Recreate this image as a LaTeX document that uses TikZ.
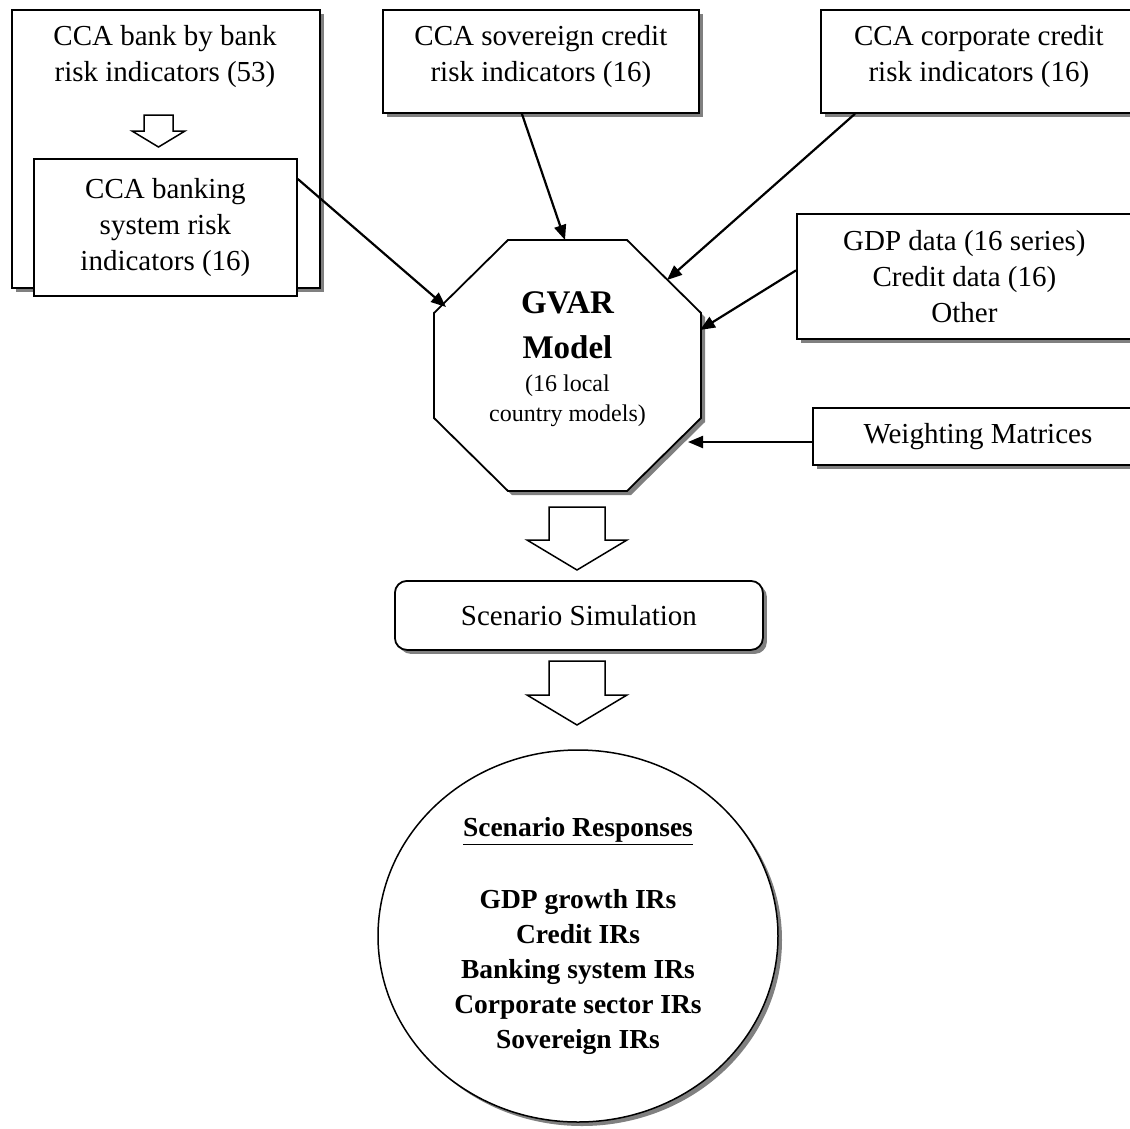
\documentclass[tikz,border=0pt]{standalone}
\usepackage{fontspec}
\setmainfont{Liberation Serif}
\usetikzlibrary{arrows.meta,shadows,shapes.geometric}

\begin{document}
\begin{tikzpicture}[x=1pt, y=-1pt,
    txt/.style={font=\fontsize{29}{36}\selectfont, align=center, inner sep=0},
    box/.style={draw, line width=1.8pt, fill=white, inner sep=0, anchor=north west},
    shad/.style={drop shadow={shadow xshift=4pt, shadow yshift=-4pt, fill=gray, opacity=1}},
    arr/.style={line width=2.2pt, -{Triangle[length=15pt, width=12pt]}},
    blk/.style={draw, line width=1.5pt, fill=white, line join=miter}]
  \useasboundingbox (0,0) rectangle (1130,1128);
  % INPUT BOXES
  \node[box, shad, minimum width=308pt, minimum height=278pt] (bankall) at (11,9) {};
  \node[txt] (bankalltxt) at (165,57) {CCA bank by bank\\risk indicators (53)};
  \draw[blk] (144,115) -- (173,115) -- (173,131) -- (185,131) -- (158.5,147) -- (132,131) -- (144,131) -- cycle;
  \node[box, txt, minimum width=263pt, minimum height=137pt] (banksys) at (33,158) {CCA banking\\system risk\\indicators (16)};
  \node[box, txt, shad, text depth=15pt, minimum width=316pt, minimum height=103pt] (sov) at (382,9) {CCA sovereign credit\\risk indicators (16)};
  \node[box, txt, shad, text depth=15pt, minimum width=316pt, minimum height=103pt] (corp) at (820,9) {CCA corporate credit\\risk indicators (16)};
  \node[box, txt, shad, minimum width=335pt, minimum height=125pt] (gdp) at (796,213) {GDP data (16 series)\\Credit data (16)\\Other};
  \node[box, txt, shad, minimum width=330pt, minimum height=57pt] (wm) at (812,407) {Weighting Matrices};
  % GVAR OCTAGON
  \draw[blk, line width=1.8pt, shad] (508,240) -- (627,240) -- (701,313) -- (701,418) -- (627,491) -- (508,491) -- (434,418) -- (434,313) -- cycle;
  \node[txt, font=\fontsize{33}{45}\selectfont\bfseries] (gvar) at (567.5,325.5) {GVAR\\Model};
  \node[txt, font=\fontsize{24}{30}\selectfont] (gvarsub) at (567.5,401) {(16 local\\country models)};
  \coordinate (gvarNW) at (446,307);
  \coordinate (gvarN) at (565,240);
  \coordinate (gvarNE) at (667,280);
  \coordinate (gvarE) at (700,330);
  \coordinate (gvarSE) at (688,442);
  % ARROWS
  \draw[arr] ([yshift=-21pt]banksys.north east) -- (gvarNW);
  \draw[arr] ([xshift=-19pt]sov.south) -- (gvarN);
  \draw[arr] ([xshift=35pt]corp.south west) -- (gvarNE);
  \draw[arr] ([yshift=6pt]gdp.west) -- (gvarE);
  \draw[arr] (gvarSE -| wm.west) -- (gvarSE);
  % SIMULATION
  \draw[blk] (549,507) -- (605,507) -- (605,540) -- (627,540) -- (577,570) -- (527,540) -- (549,540) -- cycle;
  \node[box, txt, shad, rounded corners=12pt, minimum width=368pt, minimum height=69pt] (sim) at (394,580) {Scenario Simulation};
  \draw[blk] (549,661) -- (605,661) -- (605,695) -- (627,695) -- (577,725) -- (527,695) -- (549,695) -- cycle;
  % RESPONSES
  \node[ellipse, draw, line width=1.5pt, fill=white, shad, minimum width=400pt, minimum height=372pt, inner sep=0,
    align=center, font=\fontsize{27.5}{35}\selectfont\bfseries] (resp) at (578,936)
    {\underline{Scenario Responses}\\[37pt]GDP growth IRs\\Credit IRs\\Banking system IRs\\Corporate sector IRs\\Sovereign IRs};
\end{tikzpicture}
\end{document}
